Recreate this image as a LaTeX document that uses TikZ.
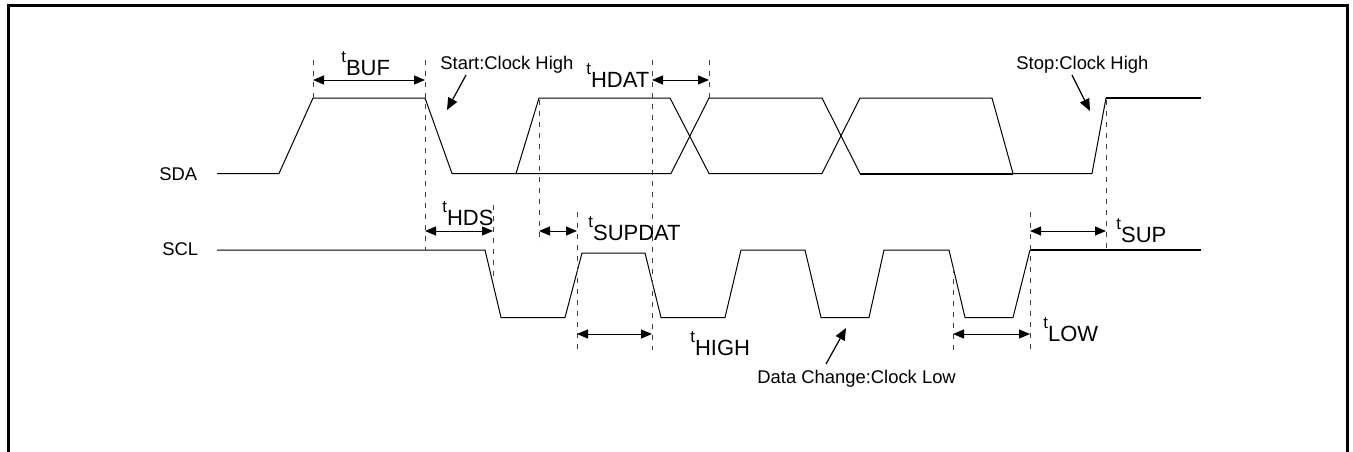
\documentclass[tikz,border=0pt]{standalone}
\usepackage{fontspec}
\setmainfont{Liberation Sans}
\usetikzlibrary{arrows.meta}
\newcommand\tname[1]{\raisebox{0.55em}{\fontsize{8.4}{9}\selectfont t}#1}
\tikzset{
  wave/.style={line width=0.5pt},
  wavebold/.style={line width=1pt},
  marker/.style={line width=0.4pt, black!75, dash pattern=on 2.5pt off 3pt},
  dim/.style={line width=0.5pt, {Triangle[length=5.5pt,width=4.5pt]}-{Triangle[length=5.5pt,width=4.5pt]}},
  note/.style={line width=0.6pt, -{Triangle[length=6pt,width=5pt]}},
  lbl/.style={font=\fontsize{9.2}{11}\selectfont, inner sep=0pt, anchor=base west},
  tlbl/.style={font=\fontsize{11}{12}\selectfont, inner sep=0pt, anchor=base west},
}
\begin{document}
\begin{tikzpicture}[x=0.5pt, y=-0.5pt]
   \useasboundingbox (0,0) rectangle (1353,451);
   % frame
   \draw[line width=1.5pt] (8.5,460) -- (8.5,5) -- (1347,5) -- (1347,460);

   % signal names
   \node[lbl] (sda) at (159,180) {SDA};
   \node[lbl] (scl) at (162,255) {SCL};

   % SDA
   \draw[wave] (217,173.5) -- (279,173.5) -- (313,98) -- (425,98) -- (452,173.5)
      -- (516,173.5) -- (539,98) -- (670,98) -- (709,173.5) -- (822,173.5)
      -- (860,98) -- (992,98) -- (1013,173.5) -- (1092,173.5) -- (1106,98);
   \draw[wave] (516,173.5) -- (671,173.5) -- (709,98) -- (822,98) -- (860,173.5);
   \draw[wavebold] (860,173.5) -- (1013,173.5);
   \draw[wavebold] (1106,98) -- (1201,98);

   % SCL
   \draw[wave] (217,250) -- (485,250) -- (501,317.5) -- (565,317.5) -- (582,253)
      -- (645,253) -- (661,317.5) -- (725,317.5) -- (741,250) -- (805,250)
      -- (821,317.5) -- (869,317.5) -- (884,250) -- (949,250) -- (965,317.5)
      -- (1013,317.5) -- (1030,250);
   \draw[wavebold] (1030,250) -- (1201,250);

   % timing markers
   \foreach \x/\a/\b in {313/60/98, 425/60/250, 493/205/280, 539/100/243,
      577/212/350, 652/60/350, 709/60/98, 953/268/350, 1030/212/350, 1106/100/253}
      \draw[marker] (\x,\a) -- (\x,\b);

   % intervals
   \draw[dim] (313,80) -- (425,80);
   \draw[dim] (652,80) -- (709,80);
   \draw[dim] (425,231) -- (493,231);
   \draw[dim] (539,231) -- (577,231);
   \draw[dim] (577,334) -- (652,334);
   \draw[dim] (953,334) -- (1030,334);
   \draw[dim] (1030,231) -- (1106,231);

   \node[tlbl] (buf) at (341,75) {\tname{BUF}};
   \node[tlbl] (hdat) at (586,87) {\tname{HDAT}};
   \node[tlbl] (hds) at (442,225) {\tname{HDS}};
   \node[tlbl] (supdat) at (588,240) {\tname{SUPDAT}};
   \node[tlbl] (high) at (690,355) {\tname{HIGH}};
   \node[tlbl] (low) at (1043,341) {\tname{LOW}};
   \node[tlbl] (sup) at (1116,242) {\tname{SUP}};

   % notes
   \node[lbl] (start) at (440,69) {Start:Clock High};
   \node[lbl] (stop) at (1016,69) {Stop:Clock High};
   \node[lbl] (change) at (757,383) {Data Change:Clock Low};
   \coordinate (startpt) at (447,110);
   \coordinate (stoppt) at (1090,111);
   \coordinate (changept) at (846,328);
   \draw[note] ([xshift=13pt,yshift=-3pt]start.base west) -- (startpt);
   \draw[note] ([xshift=28pt,yshift=-3pt]stop.base west) -- (stoppt);
   \draw[note] ([xshift=34.5pt,yshift=9.5pt]change.base west) -- (changept);
\end{tikzpicture}
\end{document}
